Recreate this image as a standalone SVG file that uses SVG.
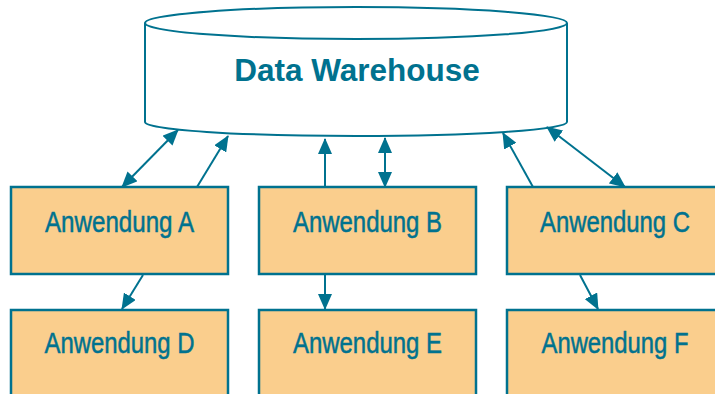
<svg xmlns="http://www.w3.org/2000/svg" width="715" height="394" viewBox="0 0 715 394">
<style>
.box{fill:#FACE8D;stroke:#00728F;stroke-width:2.5}
.lbl{font-family:"Liberation Sans",Arial,sans-serif;font-size:29px;fill:#00728F;stroke:#00728F;stroke-width:0.5;text-anchor:middle}
.con{stroke:#00728F;stroke-width:2;fill:none}
.cyl{fill:#fff;stroke:#00728F;stroke-width:2}
</style>
<defs>
<marker id="ah" markerUnits="userSpaceOnUse" markerWidth="16" markerHeight="14" viewBox="0 0 16 14" refX="15" refY="7" orient="auto-start-reverse">
<path d="M0,0 L16,7 L0,14 z" fill="#00728F"/>
</marker>
</defs>
<g id="dw">
<path class="cyl" d="M145,23 L145,122 A211,14 0 0 0 567,122 L567,23"/>
<ellipse class="cyl" cx="356" cy="23" rx="211" ry="16"/>
<text x="357" y="81" font-family="Liberation Sans,Arial,sans-serif" font-weight="bold" font-size="31.5" fill="#00728F" text-anchor="middle">Data Warehouse</text>
</g>
<g id="anwA"><rect class="box" x="11" y="187" width="217" height="87"/><text class="lbl" x="119.5" y="232" textLength="149" lengthAdjust="spacingAndGlyphs">Anwendung A</text></g>
<g id="anwB"><rect class="box" x="259" y="187" width="217" height="87"/><text class="lbl" x="367.5" y="232" textLength="149" lengthAdjust="spacingAndGlyphs">Anwendung B</text></g>
<g id="anwC"><rect class="box" x="507" y="187" width="217" height="87"/><text class="lbl" x="615" y="232" textLength="150" lengthAdjust="spacingAndGlyphs">Anwendung C</text></g>
<g id="anwD"><rect class="box" x="11" y="310" width="217" height="90"/><text class="lbl" x="119.5" y="353" textLength="150" lengthAdjust="spacingAndGlyphs">Anwendung D</text></g>
<g id="anwE"><rect class="box" x="259" y="310" width="217" height="90"/><text class="lbl" x="367.5" y="353" textLength="149" lengthAdjust="spacingAndGlyphs">Anwendung E</text></g>
<g id="anwF"><rect class="box" x="507" y="310" width="217" height="90"/><text class="lbl" x="615" y="353" textLength="147" lengthAdjust="spacingAndGlyphs">Anwendung F</text></g>
<g id="connectors">
<line class="con" x1="178" y1="130" x2="122" y2="187" marker-start="url(#ah)" marker-end="url(#ah)"/>
<line class="con" x1="197" y1="187" x2="228" y2="136" marker-end="url(#ah)"/>
<line class="con" x1="325" y1="187" x2="325" y2="139" marker-end="url(#ah)"/>
<line class="con" x1="385" y1="138" x2="385" y2="187" marker-start="url(#ah)" marker-end="url(#ah)"/>
<line class="con" x1="533" y1="187" x2="503" y2="133" marker-end="url(#ah)"/>
<line class="con" x1="547" y1="127" x2="625" y2="187" marker-start="url(#ah)" marker-end="url(#ah)"/>
<line class="con" x1="143" y1="275" x2="122" y2="309" marker-end="url(#ah)"/>
<line class="con" x1="325" y1="275" x2="325" y2="309" marker-end="url(#ah)"/>
<line class="con" x1="580" y1="275" x2="598" y2="309" marker-end="url(#ah)"/>
</g>
</svg>
